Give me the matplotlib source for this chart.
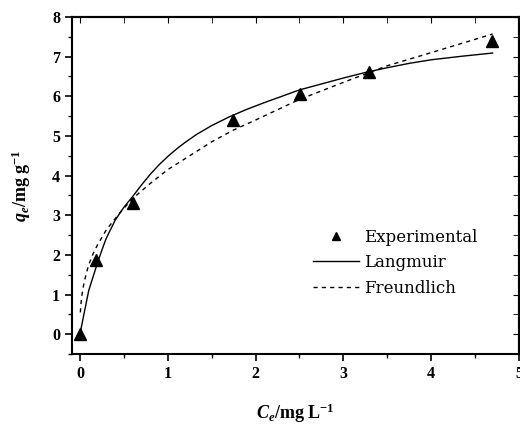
import matplotlib
matplotlib.use('Agg')
import matplotlib.pyplot as plt
from matplotlib.ticker import MultipleLocator

plt.rcParams['font.family'] = ['Liberation Serif', 'DejaVu Serif']
plt.rcParams['mathtext.fontset'] = 'custom'
plt.rcParams['mathtext.rm'] = 'Liberation Serif:bold'
plt.rcParams['mathtext.it'] = 'Liberation Serif:italic:bold'
plt.rcParams['mathtext.bf'] = 'Liberation Serif:bold'

# Экспериментальные точки
ce_exp = [0.0, 0.18, 0.60, 1.74, 2.51, 3.29, 4.69]
qe_exp = [0.0, 1.87, 3.32, 5.40, 6.06, 6.61, 7.40]

# Кривая Ленгмюра
ce_lang = [0, 0.05, 0.1, 0.15, 0.2, 0.25, 0.3, 0.4, 0.5, 0.6, 0.7, 0.8, 0.9,
           1.0, 1.1, 1.2, 1.33, 1.5, 1.7, 1.9, 2.1, 2.3, 2.5, 2.75, 3.0, 3.25,
           3.5, 3.75, 4.0, 4.35, 4.7]
qe_lang = [0, 0.55, 1.1, 1.45, 1.8, 2.12, 2.42, 2.87, 3.2, 3.47, 3.76, 4.03,
           4.27, 4.48, 4.67, 4.84, 5.04, 5.26, 5.48, 5.67, 5.84, 6.0, 6.16,
           6.31, 6.46, 6.6, 6.72, 6.83, 6.92, 7.01, 7.09]

# Кривая Фрейндлиха
ce_freu = [0.005, 0.01, 0.02, 0.035, 0.05, 0.075, 0.1, 0.15, 0.2, 0.3, 0.45,
           0.6, 0.8, 1.0, 1.25, 1.5, 1.75, 2.0, 2.5, 3.0, 3.5, 4.0, 4.7]
qe_freu = [0.55, 0.72, 0.95, 1.15, 1.33, 1.55, 1.75, 2.03, 2.25, 2.63, 3.05,
           3.42, 3.8, 4.15, 4.5, 4.85, 5.15, 5.4, 5.92, 6.35, 6.77, 7.1, 7.57]

fig = plt.figure(figsize=(5.2, 4.24), dpi=100)
ax = fig.add_axes([0.1385, 0.165, 0.8595, 0.795])

ax.plot(ce_exp, qe_exp, '^', color='black', ms=8, label='Experimental')
ax.plot(ce_lang, qe_lang, '-', color='black', lw=1.0, label='Langmuir')
ax.plot(ce_freu, qe_freu, color='black', lw=1.0, linestyle=(0, (3, 3)),
        label='Freundlich')

ax.set_xlim(-0.09, 5.0)
ax.set_ylim(-0.5, 8.0)
ax.xaxis.set_major_locator(MultipleLocator(1))
ax.xaxis.set_minor_locator(MultipleLocator(0.5))
ax.yaxis.set_major_locator(MultipleLocator(1))
ax.yaxis.set_minor_locator(MultipleLocator(0.5))

ax.tick_params(which='major', direction='out', length=5, width=1.2,
               labelsize=11.5)
ax.tick_params(which='minor', direction='out', length=3, width=1.0)
for lab in ax.get_xticklabels() + ax.get_yticklabels():
    lab.set_fontweight('bold')

# Засечки сверху и справа внутрь
top = ax.secondary_xaxis('top')
top.xaxis.set_major_locator(MultipleLocator(1))
top.xaxis.set_minor_locator(MultipleLocator(0.5))
top.tick_params(which='both', direction='in', length=4, labeltop=False)
right = ax.secondary_yaxis('right')
right.yaxis.set_major_locator(MultipleLocator(1))
right.yaxis.set_minor_locator(MultipleLocator(0.5))
right.tick_params(which='both', direction='in', length=4, labelright=False)

for sp in ax.spines.values():
    sp.set_linewidth(1.5)
top.spines['top'].set_linewidth(1.5)
right.spines['right'].set_linewidth(1.5)

ax.set_xlabel(r'$C_e$/mg L$^{\mathbf{-1}}$', fontsize=13, fontweight='bold',
              labelpad=14)
ax.set_ylabel(r'$q_e$/mg g$^{\mathbf{-1}}$', fontsize=13, fontweight='bold',
              labelpad=14)

ax.legend(loc='upper left', bbox_to_anchor=(0.602, 0.46),
          bbox_transform=fig.transFigure, frameon=False,
          prop={'family': 'DejaVu Serif', 'size': 12},
          handlelength=2.75, handletextpad=0.3, labelspacing=0.5,
          borderpad=0, borderaxespad=0, markerscale=0.75)

fig.savefig('out.png', dpi=100)
